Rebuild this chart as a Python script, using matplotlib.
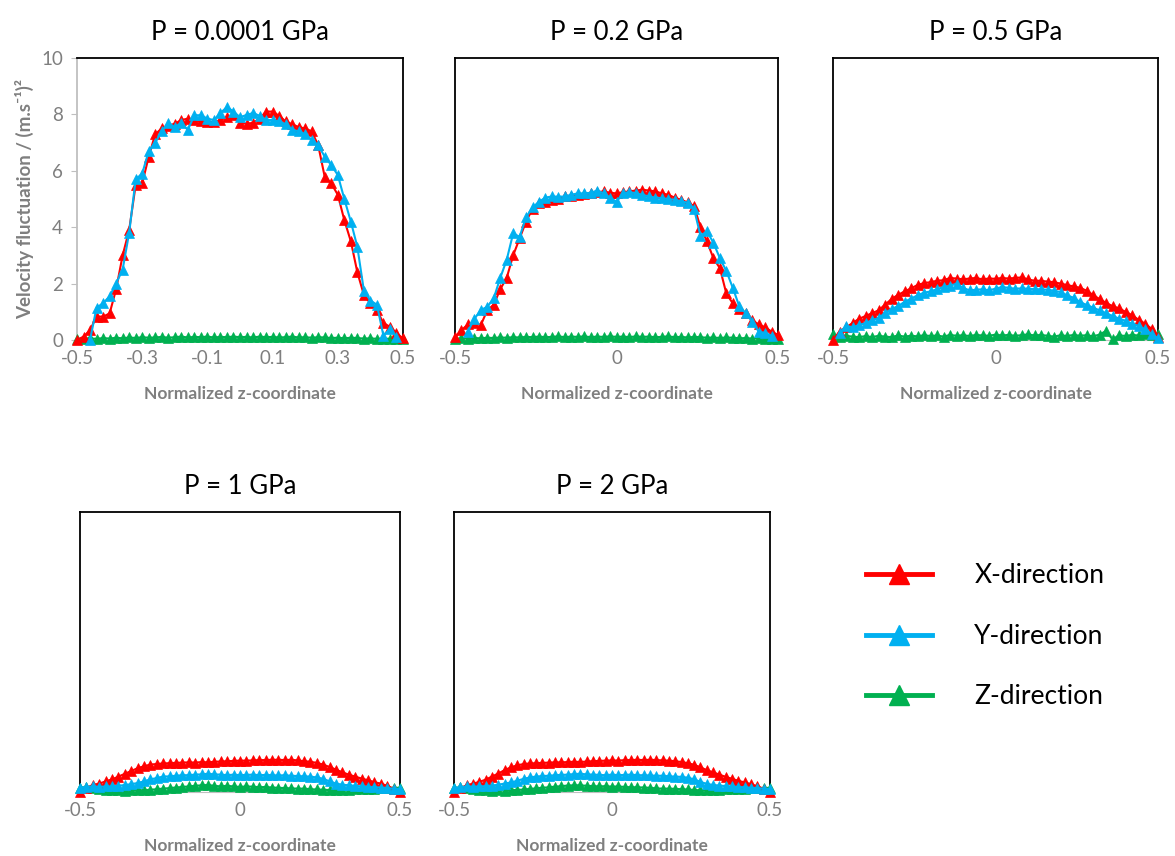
import numpy as np
import matplotlib
matplotlib.use('Agg')
import matplotlib.pyplot as plt
from matplotlib.lines import Line2D

plt.rcParams['font.family'] = ['Lato', 'DejaVu Sans']

# normalized z-coordinate grid (step 0.02)
Z_COORD = np.linspace(-0.5, 0.5, 51)
nan = np.nan

TITLES = ['P = 0.0001 GPa', 'P = 0.2 GPa', 'P = 0.5 GPa', 'P = 1 GPa', 'P = 2 GPa']
LABELS = ['X-direction', 'Y-direction', 'Z-direction']
COLORS = ['#FF0000', '#00B0F0', '#00B050']

# P = 0.0001 GPa
x_p1 = [0.0, 0.12, 0.35, 0.83, 0.83, 0.94, 1.8, 3.0, 3.9, 5.5, 5.55, 6.5, 7.3, 7.5, 7.6, 7.67,
        7.8, 7.85, 7.8, 7.75, 7.73, 7.73, 7.8, 7.9, 7.97, 7.7, 7.67, 7.7, 7.85, 8.1, 8.1, 7.95,
        7.75, 7.65, 7.55, 7.5, 7.4, 6.9, 5.78, 5.55, 5.15, 4.25, 3.5, 2.4, 1.6, 1.3, 1.05, 0.6,
        0.47, 0.24, 0.06]
y_p1 = [nan, nan, 0.0, 1.15, 1.3, 1.55, 2.0, 2.5, 3.8, 5.7, 5.9, 6.7, 7.0, 7.4, 7.7, 7.55,
        7.7, 7.45, 7.97, 7.97, 7.85, 7.8, 8.05, 8.26, 8.1, 7.9, 7.98, 8.05, 7.95, 7.8, 7.8, 7.75,
        7.65, 7.45, 7.4, 7.3, 7.1, 6.9, 6.5, 6.2, 5.85, 5.0, 4.2, 3.3, 1.75, 1.4, 1.25, 0.15,
        0.4, 0.1, nan]
z_p1 = [0.02, 0.05, 0.06, 0.04, 0.07, 0.05, 0.08, 0.06, 0.09, 0.07, 0.1, 0.08, 0.09, 0.11, 0.08,
        0.1, 0.12, 0.09, 0.11, 0.1, 0.12, 0.09, 0.11, 0.1, 0.12, 0.1, 0.11, 0.09, 0.12, 0.1, 0.11,
        0.09, 0.1, 0.12, 0.09, 0.1, 0.08, 0.1, 0.09, 0.07, 0.08, 0.06, 0.08, 0.07, 0.05, 0.06,
        0.04, 0.05, 0.04, 0.03, 0.02]

# P = 0.2 GPa
x_p2 = [0.1, 0.35, 0.55, 0.6, 0.53, 1.06, 1.25, 1.8, 2.2, 3.0, 3.6, 4.2, 4.65, 4.85, 4.9, 4.97,
        5.0, 5.09, 5.12, 5.15, 5.18, 5.2, 5.24, 5.27, 5.22, 5.2, 5.24, 5.27, 5.3, 5.33, 5.3, 5.27,
        5.2, 5.15, 5.05, 4.97, 4.88, 4.75, 4.0, 3.5, 2.9, 2.55, 1.65, 1.3, 1.1, 0.95, 0.71, 0.55,
        0.45, 0.3, 0.18]
y_p2 = [nan, nan, 0.3, 0.75, 1.06, 1.18, 1.48, 2.2, 2.84, 3.78, 3.66, 4.35, 4.7, 4.9, 5.05, 5.09,
        5.08, 5.09, 5.15, 5.2, 5.2, 5.22, 5.3, 5.2, 5.05, 4.9, 5.2, 5.25, 5.2, 5.15, 5.09, 5.05,
        5.03, 5.0, 4.97, 4.92, 4.87, 4.65, 3.7, 3.85, 3.45, 2.9, 2.45, 1.85, 1.2, 0.95, 0.65, 0.3,
        0.25, 0.15, nan]
z_p2 = [0.03, 0.06, 0.05, 0.07, 0.06, 0.08, 0.07, 0.09, 0.08, 0.1, 0.09, 0.11, 0.1, 0.12, 0.1,
        0.11, 0.13, 0.1, 0.12, 0.11, 0.13, 0.1, 0.12, 0.11, 0.13, 0.11, 0.12, 0.1, 0.13, 0.11,
        0.12, 0.1, 0.11, 0.13, 0.1, 0.11, 0.09, 0.11, 0.1, 0.08, 0.09, 0.07, 0.09, 0.08, 0.06,
        0.07, 0.05, 0.06, 0.05, 0.04, 0.03]

# P = 0.5 GPa
x_p3 = [0.0, 0.3, 0.45, 0.6, 0.75, 0.85, 0.95, 1.05, 1.25, 1.45, 1.6, 1.72, 1.83, 1.95, 2.02, 2.05,
        2.1, 2.12, 2.2, 2.18, 2.15, 2.18, 2.2, 2.15, 2.18, 2.17, 2.2, 2.18, 2.2, 2.22, 2.15, 2.1,
        2.1, 2.07, 2.05, 2.0, 1.95, 1.9, 1.85, 1.75, 1.6, 1.45, 1.32, 1.2, 1.12, 1.0, 0.88, 0.72,
        0.58, 0.4, 0.12]
y_p3 = [nan, 0.24, 0.5, 0.45, 0.53, 0.6, 0.7, 0.78, 0.95, 1.1, 1.2, 1.35, 1.47, 1.58, 1.68, 1.72,
        1.8, 1.88, 1.92, 2.0, 1.85, 1.76, 1.78, 1.8, 1.76, 1.82, 1.88, 1.85, 1.82, 1.83, 1.82, 1.8,
        1.8, 1.78, 1.75, 1.7, 1.58, 1.5, 1.35, 1.24, 1.15, 1.05, 0.95, 0.85, 0.76, 0.68, 0.58, 0.5,
        0.38, 0.22, 0.06]
z_p3 = [0.2, 0.1, 0.15, 0.12, 0.1, 0.14, 0.1, 0.15, 0.12, 0.1, 0.16, 0.12, 0.15, 0.13, 0.17, 0.14,
        0.16, 0.12, 0.18, 0.15, 0.17, 0.14, 0.18, 0.16, 0.15, 0.19, 0.16, 0.18, 0.15, 0.17, 0.2,
        0.16, 0.18, 0.15, 0.12, 0.17, 0.14, 0.18, 0.15, 0.17, 0.13, 0.19, 0.32, 0.02, 0.17, 0.14,
        0.18, 0.16, 0.2, 0.18, 0.22]

# P = 1 GPa
x_p4 = [0.0, 0.15, 0.25, 0.3, 0.38, 0.45, 0.55, 0.65, 0.75, 0.85, 0.92, 0.98, 1.0, 1.02, 1.03, 1.04,
        1.05, 1.06, 1.05, 1.07, 1.06, 1.08, 1.09, 1.1, 1.11, 1.12, 1.12, 1.13, 1.14, 1.14, 1.15, 1.15,
        1.14, 1.15, 1.13, 1.1, 1.08, 1.04, 0.98, 0.89, 0.8, 0.7, 0.62, 0.55, 0.48, 0.42, 0.35, 0.3,
        0.22, 0.12, 0.0]
y_p4 = [0.15, 0.18, 0.2, 0.18, 0.2, 0.2, 0.22, 0.25, 0.28, 0.32, 0.38, 0.45, 0.5, 0.55, 0.56, 0.58,
        0.6, 0.6, 0.62, 0.63, 0.65, 0.63, 0.62, 0.6, 0.62, 0.6, 0.61, 0.62, 0.6, 0.61, 0.6, 0.59,
        0.6, 0.58, 0.57, 0.56, 0.55, 0.52, 0.47, 0.38, 0.3, 0.26, 0.24, 0.22, 0.2, 0.18, 0.17, 0.16,
        0.14, 0.12, 0.1]
z_p4 = [0.15, 0.18, 0.16, 0.12, 0.08, 0.06, 0.06, 0.05, 0.06, 0.07, 0.06, 0.08, 0.1, 0.12, 0.14,
        0.16, 0.18, 0.2, 0.22, 0.24, 0.25, 0.22, 0.2, 0.22, 0.2, 0.18, 0.2, 0.19, 0.17, 0.18, 0.16,
        0.15, 0.14, 0.13, 0.12, 0.12, 0.1, 0.09, 0.08, 0.07, 0.06, 0.07, 0.08, 0.09, 0.1, 0.1, 0.12,
        0.13, 0.14, 0.15, 0.15]

# P = 2 GPa
x_p5 = [0.0, 0.14, 0.24, 0.3, 0.36, 0.44, 0.55, 0.66, 0.78, 0.88, 0.95, 1.0, 1.02, 1.03, 1.04, 1.05,
        1.06, 1.06, 1.07, 1.08, 1.07, 1.09, 1.1, 1.11, 1.12, 1.13, 1.12, 1.14, 1.14, 1.15, 1.14, 1.15,
        1.14, 1.13, 1.12, 1.1, 1.07, 1.03, 0.97, 0.88, 0.78, 0.7, 0.62, 0.54, 0.47, 0.4, 0.34, 0.28,
        0.2, 0.12, 0.0]
y_p5 = [0.14, 0.17, 0.2, 0.19, 0.2, 0.21, 0.23, 0.26, 0.3, 0.34, 0.4, 0.47, 0.52, 0.55, 0.57, 0.58,
        0.6, 0.61, 0.62, 0.64, 0.65, 0.63, 0.62, 0.61, 0.6, 0.62, 0.6, 0.61, 0.62, 0.6, 0.6, 0.59,
        0.58, 0.58, 0.56, 0.55, 0.54, 0.51, 0.45, 0.36, 0.29, 0.25, 0.23, 0.21, 0.2, 0.18, 0.17, 0.15,
        0.14, 0.12, 0.1]
z_p5 = [0.14, 0.17, 0.15, 0.11, 0.08, 0.06, 0.05, 0.06, 0.05, 0.07, 0.07, 0.09, 0.11, 0.13, 0.15,
        0.17, 0.19, 0.21, 0.23, 0.24, 0.24, 0.22, 0.21, 0.2, 0.21, 0.19, 0.2, 0.18, 0.17, 0.17, 0.16,
        0.15, 0.13, 0.12, 0.12, 0.11, 0.1, 0.09, 0.07, 0.06, 0.06, 0.07, 0.08, 0.1, 0.1, 0.11, 0.12,
        0.13, 0.14, 0.14, 0.15]

SERIES = [(x_p1, y_p1, z_p1), (x_p2, y_p2, z_p2), (x_p3, y_p3, z_p3),
          (x_p4, y_p4, z_p4), (x_p5, y_p5, z_p5)]

W, H = 1175, 856
# axes boxes in pixels: left, right, top, bottom
BOXES = [(77, 403, 58, 340), (455, 778, 58, 340), (833, 1158, 58, 340),
         (80, 400, 512, 792), (454, 770, 512, 792)]

GRAY_TXT = '#7f7f7f'
GRAY_AX = '#bfbfbf'

fig = plt.figure(figsize=(W / 100, H / 100), dpi=100)

for i, (l, r, t, b) in enumerate(BOXES):
    ax = fig.add_axes([l / W, 1 - b / H, (r - l) / W, (b - t) / H])
    xd, yd, zd = SERIES[i]
    for vals, c, z in [(zd, COLORS[2], 3), (xd, COLORS[0], 4), (yd, COLORS[1], 5)]:
        ax.plot(Z_COORD, vals, color=c, lw=1.5, marker='^', ms=7.5, mec=c, mew=0.5,
                clip_on=False, zorder=z)
    ax.set_xlim(-0.5, 0.5)
    ax.set_ylim(0, 10)
    ax.set_title(TITLES[i], fontsize=18.5, pad=13)
    if i == 0:
        ax.set_xticks([-0.5, -0.3, -0.1, 0.1, 0.3, 0.5])
        ax.set_xticklabels(['-0.5', '-0.3', '-0.1', '0.1', '0.3', '0.5'])
        ax.set_yticks([0, 2, 4, 6, 8, 10])
        ax.tick_params(axis='y', colors=GRAY_AX, labelcolor=GRAY_TXT, labelsize=13.5,
                       length=4, direction='out', pad=6)
        ax.spines['left'].set_color(GRAY_AX)
        ax.set_ylabel('Velocity fluctuation / (m.s⁻¹)²', color=GRAY_TXT,
                      fontsize=13.5, fontweight='bold', labelpad=5)
    else:
        ax.set_xticks([-0.5, 0, 0.5])
        ax.set_xticklabels(['-0.5', '0', '0.5'])
        ax.set_yticks([])
        ax.spines['left'].set_color('black')
    ax.tick_params(axis='x', length=0, labelcolor=GRAY_TXT, labelsize=13.5, pad=7)
    ax.spines['left'].set_linewidth(1.3)
    for s in ['top', 'right']:
        ax.spines[s].set_color('black')
        ax.spines[s].set_linewidth(1.3)
    ax.spines['bottom'].set_color(GRAY_AX)
    ax.set_xlabel('Normalized z-coordinate', color=GRAY_TXT, fontsize=12.5,
                  fontweight='bold', labelpad=14)

handles = [Line2D([], [], color=c, lw=3.5, marker='^', ms=15, mec=c) for c in COLORS]
fig.legend(handles, LABELS, loc='upper left', bbox_to_anchor=(853 / W, 1 - 550 / H),
           frameon=False, fontsize=19, handlelength=2.5, handletextpad=1.6,
           labelspacing=1.35, borderpad=0)

plt.savefig('out.png', dpi=100)
